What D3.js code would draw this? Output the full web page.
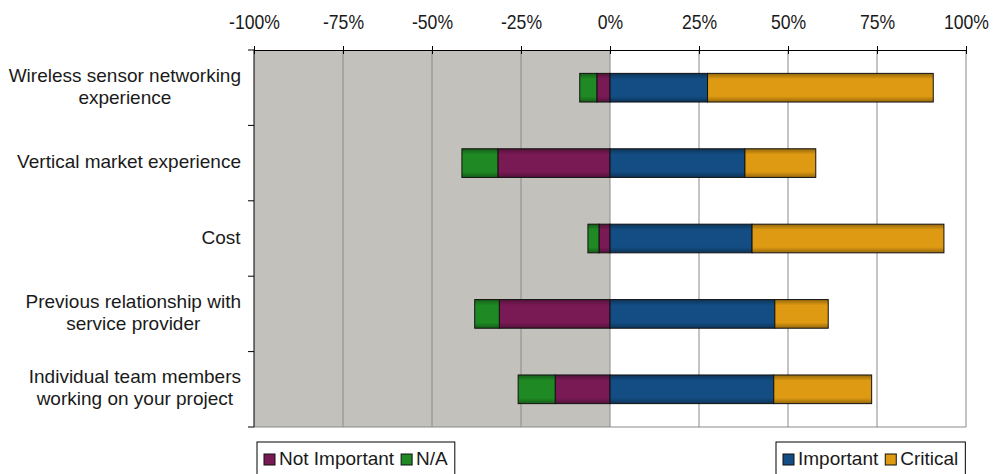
<!DOCTYPE html>
<html><head><meta charset="utf-8">
<script src="https://cdn.jsdelivr.net/npm/d3@7"></script>
<style>body{margin:0;background:#fff;} svg{display:block;font-family:"Liberation Sans",Arial,sans-serif;}</style>
</head><body>
<svg id="c" width="1003" height="474"></svg>
<script>
const categories = [
  ["Wireless sensor networking", "experience"],
  ["Vertical market experience"],
  ["Cost"],
  ["Previous relationship with", "service provider"],
  ["Individual team members", "working on your project"]
];
const notImportant = [3.7, 31.5, 3.1, 31.1, 15.4];
const naValues     = [4.8, 10.1, 3.1, 6.9, 10.4];
const important    = [27.4, 37.9, 39.9, 46.3, 46.0];
const critical     = [63.4, 19.9, 53.9, 15.0, 27.5];
const tickValues   = [-100, -75, -50, -25, 0, 25, 50, 75, 100];
const tickLabels   = ["-100%", "-75%", "-50%", "-25%", "0%", "25%", "50%", "75%", "100%"];

const colors = {ni:"#7a1a55", na:"#1f8a24", imp:"#134d83", crit:"#de9a12"};

const svg = d3.select("#c");
const L = 254, R = 966, T = 50, B = 427;
const x = d3.scaleLinear().domain([-100, 100]).range([L, R]);
const idx = categories.map((d,i)=>i);
const y = d3.scaleBand().domain(idx).range([T, B]).paddingInner(0.62).paddingOuter(0.31);
const yb = d3.scaleBand().domain(idx).range([T, B]);

// gradients
const defs = svg.append("defs");
Object.entries(colors).forEach(([k,c])=>{
  const g = defs.append("linearGradient").attr("id","g"+k).attr("x1",0).attr("y1",0).attr("x2",0).attr("y2",1);
  const dk = d3.color(c).darker(1.1), md = d3.color(c);
  g.append("stop").attr("offset","0%").attr("stop-color",dk);
  g.append("stop").attr("offset","20%").attr("stop-color",md);
  g.append("stop").attr("offset","80%").attr("stop-color",md);
  g.append("stop").attr("offset","100%").attr("stop-color",dk);
});

// background
svg.append("rect").attr("x",x(-100)).attr("y",T).attr("width",x(0)-x(-100)).attr("height",B-T).attr("fill","#c3c1bc");
svg.append("rect").attr("x",x(0)).attr("y",T).attr("width",x(100)-x(0)).attr("height",B-T).attr("fill","#ffffff");
// gridlines
svg.append("g").selectAll("line").data(tickValues.filter(v=>v!==-100)).join("line")
  .attr("x1",d=>x(d)).attr("x2",d=>x(d)).attr("y1",T).attr("y2",B)
  .attr("stroke","#8a8a8a").attr("stroke-width",1);
svg.append("line").attr("x1",L).attr("x2",R).attr("y1",B).attr("y2",B).attr("stroke","#8a8a8a");

// bars
const segs = [];
idx.forEach(i=>{
  segs.push({i, x0:-notImportant[i], x1:0, c:"ni"});
  segs.push({i, x0:-notImportant[i]-naValues[i], x1:-notImportant[i], c:"na"});
  segs.push({i, x0:0, x1:important[i], c:"imp"});
  segs.push({i, x0:important[i], x1:important[i]+critical[i], c:"crit"});
});
svg.append("g").selectAll("rect").data(segs).join("rect")
  .attr("x",d=>x(d.x0)).attr("width",d=>x(d.x1)-x(d.x0))
  .attr("y",d=>y(d.i)).attr("height",y.bandwidth())
  .attr("fill",d=>"url(#g"+d.c+")").attr("stroke","#111").attr("stroke-width",1);

// top axis
const xa = svg.append("g").attr("transform",`translate(0,${T})`)
  .call(d3.axisTop(x).tickValues(tickValues).tickFormat((d,i)=>tickLabels[i]).tickSizeInner(5).tickSizeOuter(0).tickPadding(16));
xa.select(".domain").attr("stroke","#000");
xa.selectAll(".tick line").attr("stroke","#000").attr("y2",-4).attr("y1",4);
xa.selectAll(".tick text").each(function(){
  const t = d3.select(this);
  const yy = +t.attr("y") || -16;
  t.attr("y",null).attr("dy",null)
   .attr("transform",`translate(0,${yy}) scale(0.88,1)`)
   .attr("font-size",20).attr("fill","#1a1a1a").attr("font-family","Liberation Sans, Arial, sans-serif");
});

// left axis
const ya = svg.append("g").attr("transform",`translate(${L},0)`);
ya.append("line").attr("x1",0).attr("x2",0).attr("y1",T).attr("y2",B).attr("stroke","#000");
ya.selectAll("line.t").data(idx.concat([idx.length])).join("line").attr("class","t")
  .attr("x1",-6).attr("x2",0)
  .attr("y1",d=>d<idx.length?yb(d):B).attr("y2",d=>d<idx.length?yb(d):B).attr("stroke","#000");
const lab = svg.append("g").selectAll("text").data(idx).join("text")
  .attr("text-anchor","middle").attr("font-size",19).attr("fill","#1a1a1a");
lab.each(function(i){
  const lines = categories[i];
  const cy = yb(i)+yb.bandwidth()/2;
  const t = d3.select(this);
  const lh = 22;
  lines.forEach((s,k)=>{
    t.append("tspan").attr("x",0).attr("y",cy + (k-(lines.length-1)/2)*lh + 5).text(s);
  });
});
lab.each(function(){
  const bb = this.getBBox();
  d3.select(this).attr("transform",`translate(${241 - bb.width/2},0)`);
});

// legends
function legend(xp, items){
  const g = svg.append("g").attr("transform",`translate(${xp},442)`);
  const box = g.append("rect").attr("x",0).attr("y",0).attr("height",40).attr("fill","#fff").attr("stroke","#000");
  let cx = 7;
  items.forEach(it=>{
    g.append("rect").attr("x",cx).attr("y",12).attr("width",11).attr("height",11).attr("fill",colors[it.c]).attr("stroke","#111");
    const t = g.append("text").attr("x",cx+15).attr("y",23).attr("font-size",19).attr("fill","#1a1a1a").text(it.label);
    cx += 15 + t.node().getComputedTextLength() + 7;
  });
  box.attr("width",cx);
  return g;
}
legend(257, [{c:"ni",label:"Not Important"},{c:"na",label:"N/A"}]);
legend(776, [{c:"imp",label:"Important"},{c:"crit",label:"Critical"}]);
</script>
</body></html>
